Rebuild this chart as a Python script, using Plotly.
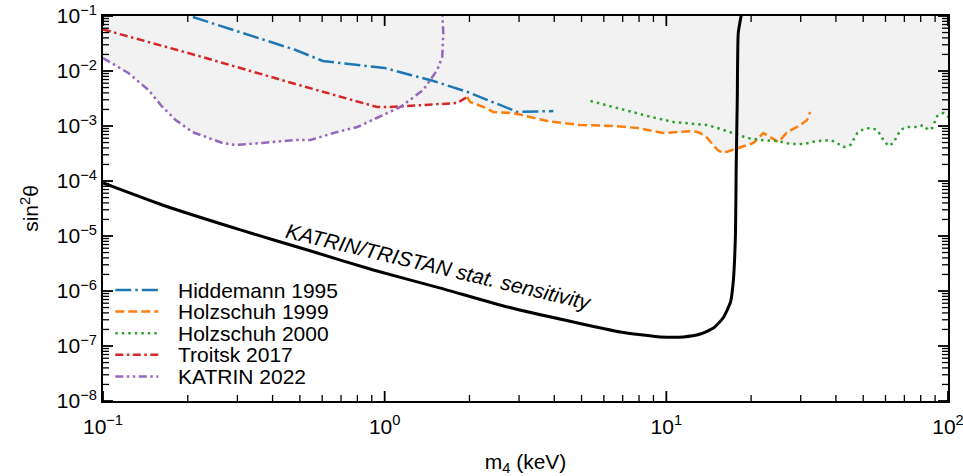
import math
import plotly.graph_objects as go

# Exclusion limits on sterile-neutrino mixing (m4 in keV, sin^2 theta)
hiddemann_m = [0.2085, 0.308, 0.483, 0.603, 1.0, 1.236, 1.49, 1.97, 2.96, 3.97]
hiddemann_s = [0.096, 0.0504, 0.0241, 0.0152, 0.01134, 0.00846, 0.00658, 0.00415, 0.0018, 0.00187]

holz1999_m = [1.963, 2.01, 2.24, 2.43, 2.86, 3.78, 4.95, 6.48, 7.89, 9.75, 12.47, 13.2, 13.97,
              15.2, 15.9, 17.9, 20.4, 22.1, 23.4, 25.0, 26.9, 29.9, 31.6, 32.4]
holz1999_s = [0.00337, 0.00273, 0.00222, 0.0018, 0.00172, 0.00123, 0.00104, 0.0010, 0.00092,
              0.000746, 0.00081, 0.000746, 0.000605, 0.000366, 0.000323, 0.000398, 0.000491,
              0.000746, 0.000631, 0.000512, 0.000778, 0.00104, 0.00129, 0.0018]

holz2000_m = [5.38, 6.48, 8.57, 10.6, 14.0, 15.6, 17.3, 19.4, 21.6, 24.8, 27.6, 30.7, 34.4, 38.3,
              41.5, 42.6, 45.1, 47.7, 50.1, 53.1, 56.1, 59.0, 61.4, 64.0, 67.8, 71.7, 77.8, 81.7,
              85.1, 87.9, 91.6, 96.2, 100.0]
holz2000_s = [0.00285, 0.00221, 0.00152, 0.00118, 0.00104, 0.00088, 0.000746, 0.000605, 0.000556,
              0.000533, 0.000471, 0.000471, 0.000533, 0.000556, 0.000452, 0.000415, 0.000452,
              0.000746, 0.00088, 0.00092, 0.000846, 0.000556, 0.000433, 0.000491, 0.000846,
              0.00096, 0.00096, 0.00104, 0.000846, 0.00092, 0.00152, 0.00172, 0.00146]

troitsk_m = [0.1, 0.213, 0.482, 0.605, 0.941, 1.047, 1.574, 1.81, 1.963]
troitsk_s = [0.057, 0.0195, 0.0058, 0.00415, 0.00221, 0.00221, 0.00251, 0.00262, 0.00337]

katrin_m = [0.1, 0.123, 0.145, 0.1625, 0.181, 0.2075, 0.2654, 0.295, 0.368, 0.482, 0.545, 0.658,
            0.80, 0.942, 1.137, 1.371, 1.537, 1.601, 1.615, 1.60]
katrin_s = [0.0172, 0.0092, 0.00452, 0.00222, 0.00129, 0.000778, 0.000491, 0.000452, 0.000491,
            0.000556, 0.000556, 0.000746, 0.00096, 0.0014, 0.00222, 0.00452, 0.01043, 0.018,
            0.049, 0.12]

# Projected statistical sensitivity
tristan_m = [0.1, 0.1625, 0.3076, 0.532, 0.912, 1.578, 2.728, 4.68, 6.87, 9.53, 11.5, 13.2, 14.7,
             15.9, 16.9, 17.3, 17.6, 17.7, 17.86, 18.0, 18.45]
tristan_s = [9.2e-5, 3.66e-5, 1.29e-5, 5.56e-6, 2.41e-6, 1.13e-6, 5.12e-7, 2.73e-7, 1.80e-7,
             1.46e-7, 1.46e-7, 1.65e-7, 2.12e-7, 3.23e-7, 6.3e-7, 1.58e-6, 1.13e-5, 1.8e-4,
             2.97e-3, 0.049, 0.104]

y_ticks = [1e-8, 1e-7, 1e-6, 1e-5, 1e-4, 1e-3, 1e-2, 1e-1]
y_ticktext = ["10<sup>\u2212%d</sup>" % k for k in range(8, 0, -1)]
x_ticks = [0.1, 1, 10, 100]
x_ticktext = ["10<sup>\u22121</sup>", "10<sup>0</sup>", "10<sup>1</sup>", "10<sup>2</sup>"]

# Minor ticks at 2..9 within each decade
x_minor = [k * 10.0 ** e for e in range(-1, 2) for k in range(2, 10)]
y_minor = [k * 10.0 ** e for e in range(-8, -1) for k in range(2, 10)]

X_RANGE = (-1.0, 2.0)   # log10 of the m4 range
Y_RANGE = (-8.0, -1.0)  # log10 of the sin^2 range

FONT = "Arial, Liberation Sans, sans-serif"
FILL = "#f2f2f2"
LW = 2.5

series = [
    ("Hiddemann 1995", hiddemann_m, hiddemann_s, "#1f77b4", "16px,4px,2.5px,4px"),
    ("Holzschuh 1999", holz1999_m, holz1999_s, "#ff7f0e", "9px,4px"),
    ("Holzschuh 2000", holz2000_m, holz2000_s, "#2ca02c", "2.5px,4px"),
    ("Troitsk 2017", troitsk_m, troitsk_s, "#d62728", "8px,3.5px,2.5px,3.5px"),
    ("KATRIN 2022", katrin_m, katrin_s, "#9467bd", "8px,3.5px,2.5px,3.5px,2.5px,3.5px"),
]

# Plot-area geometry in pixels (used for legend swatches and tick lengths)
L, R, T, B = 102.7, 947.7, 16.0, 401.0
W, H = R - L, B - T
PX_PER_DEC_X = W / (X_RANGE[1] - X_RANGE[0])
PX_PER_DEC_Y = H / (Y_RANGE[1] - Y_RANGE[0])

fig = go.Figure()

# Excluded region: area above each limit curve, shaded in light grey
for name, m, s, color, dash in series:
    fig.add_trace(go.Scatter(
        x=list(m) + [m[-1], m[0]], y=list(s) + [1.0, 1.0],
        mode="lines", fill="toself", fillcolor=FILL,
        line=dict(width=0, color=FILL), showlegend=False, hoverinfo="skip"))

for name, m, s, color, dash in series:
    fig.add_trace(go.Scatter(
        x=m, y=s, mode="lines", name=name,
        line=dict(color=color, width=LW, dash=dash), showlegend=False))

fig.add_trace(go.Scatter(
    x=tristan_m, y=tristan_s, mode="lines", name="KATRIN/TRISTAN",
    line=dict(color="black", width=3, shape="spline", smoothing=0.5), showlegend=False))


# Inward-pointing tick marks on all four sides, drawn as short line segments
def tick_segments(values, axis, length):
    xs, ys = [], []
    if axis == "x":
        dy = 10 ** (length / PX_PER_DEC_Y)
        lo, hi = 10 ** Y_RANGE[0], 10 ** Y_RANGE[1]
        for v in values:
            xs += [v, v, None, v, v, None]
            ys += [lo, lo * dy, None, hi, hi / dy, None]
    else:
        dx = 10 ** (length / PX_PER_DEC_X)
        lo, hi = 10 ** X_RANGE[0], 10 ** X_RANGE[1]
        for v in values:
            ys += [v, v, None, v, v, None]
            xs += [lo, lo * dx, None, hi, hi / dx, None]
    return xs, ys


for vals, axis, length, width in ((x_ticks, "x", 10, 1.8), (x_minor, "x", 6, 1.3),
                                  (y_ticks, "y", 10, 1.8), (y_minor, "y", 6, 1.3)):
    tx, ty = tick_segments(vals, axis, length)
    fig.add_trace(go.Scatter(x=tx, y=ty, mode="lines", showlegend=False, hoverinfo="skip",
                             line=dict(color="black", width=width), connectgaps=False))

# Legend drawn as swatches + labels in the lower-left corner
row_y = [290.0, 311.6, 333.2, 354.8, 376.4]
for (name, m, s, color, dash), py in zip(series, row_y):
    yp = (B - py) / H
    fig.add_shape(type="line", xref="paper", yref="paper",
                  x0=(115 - L) / W, x1=(158 - L) / W, y0=yp, y1=yp,
                  line=dict(color=color, width=LW, dash=dash))
    fig.add_annotation(xref="paper", yref="paper", x=(176 - L) / W, y=yp,
                       text=name, showarrow=False, xanchor="left", yanchor="middle",
                       font=dict(family=FONT, size=21, color="black"))

fig.add_annotation(x=math.log10(1.55), y=-5.556, text="<i>KATRIN/TRISTAN stat. sensitivity</i>",
                   showarrow=False, textangle=13.4, xanchor="center", yanchor="middle",
                   font=dict(family=FONT, size=21, color="black"))

axis_common = dict(
    type="log", showgrid=False, zeroline=False, showline=True, linecolor="black",
    linewidth=1.8, mirror=True, ticks="",
    tickfont=dict(family=FONT, size=21, color="black"),
    automargin=False, ticklabeloverflow="allow",
)

fig.update_xaxes(range=list(X_RANGE), tickvals=x_ticks, ticktext=x_ticktext,
                 ticklabelstandoff=6,
                 title=dict(text="m<sub>4</sub> (keV)", font=dict(family=FONT, size=21, color="black"),
                            standoff=24),
                 **axis_common)
fig.update_yaxes(range=list(Y_RANGE), tickvals=y_ticks, ticktext=y_ticktext,
                 title=dict(text="sin<sup>2</sup>\u03b8", font=dict(family=FONT, size=21, color="black"),
                            standoff=12),
                 **axis_common)

fig.update_layout(
    width=963, height=476,
    margin=dict(l=103, r=15, t=16, b=75, pad=0),
    paper_bgcolor="white", plot_bgcolor="white",
    font=dict(family=FONT, color="black"),
    showlegend=False,
)

fig.write_html("out.html")
